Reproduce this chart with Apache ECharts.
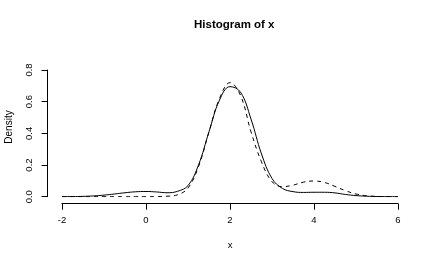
<!DOCTYPE html>
<html><head><meta charset="utf-8">
<script src="https://cdn.jsdelivr.net/npm/echarts@6/dist/echarts.min.js"></script>
<style>html,body{margin:0;padding:0;background:#fff}#c{width:436px;height:263px}</style>
</head><body><div id="c"></div>
<script>
var xs = [-2,-1.75,-1.5,-1.25,-1,-0.75,-0.5,-0.25,0,0.25,0.5,0.75,1,1.25,1.5,1.75,2,2.25,2.5,2.75,3,3.25,3.5,3.75,4,4.25,4.5,4.75,5,5.25,5.5,5.75,6];
var solidY = [0.0005,0.001,0.002,0.005,0.01,0.017,0.025,0.031,0.033,0.03,0.025,0.034,0.07,0.20,0.41,0.61,0.695,0.66,0.49,0.27,0.115,0.052,0.032,0.027,0.028,0.028,0.024,0.014,0.007,0.003,0.001,0.0005,0];
var dashedY = [0,0,0,0,0,0,0,0,0,0.001,0.003,0.012,0.055,0.19,0.41,0.62,0.72,0.64,0.41,0.22,0.095,0.063,0.073,0.092,0.099,0.09,0.065,0.038,0.017,0.006,0.002,0.0005,0];
var xTicks = [-2,0,2,4,6];
var yTicks = [0.0,0.2,0.4,0.6,0.8];
var titleText = 'Histogram of x';
var xName = 'x';
var yName = 'Density';

function pairs(a){ return xs.map(function(x,i){return [x,a[i]];}); }
var chart = echarts.init(document.getElementById('c'), null, {renderer:'canvas'});
var axisCol = '#000';
chart.setOption({
  animation:false,
  backgroundColor:'#fff',
  title:{text:titleText, left:189, top:14, textStyle:{fontFamily:'Liberation Sans', fontSize:11.5, fontWeight:'bold', color:'#000'}},
  grid:{left:62, right:38, top:70, bottom:66.3, containLabel:false, outerBoundsMode:'none'},
  graphic:[{type:'text', x:9, y:127, rotation:Math.PI/2, silent:true,
    style:{text:yName, fill:'#000', font:'10px "Liberation Sans"', align:'center', verticalAlign:'middle', textAlign:'center', textVerticalAlign:'middle'}}],
  xAxis:{type:'value', min:-2, max:6, interval:2, offset:7,
    name:xName, nameLocation:'middle', nameGap:37,
    nameTextStyle:{fontFamily:'Liberation Sans', fontSize:9.5, color:'#000'},
    axisLine:{show:true, onZero:false, lineStyle:{color:axisCol, width:1}},
    axisTick:{show:true, length:6, lineStyle:{color:axisCol}},
    axisLabel:{margin:12, fontFamily:'Liberation Sans', fontSize:9.5, color:'#000',
      formatter:function(v){return xTicks.indexOf(v)>=0 ? String(v) : '';}},
    splitLine:{show:false}},
  yAxis:{type:'value', min:0, max:0.8, interval:0.2, offset:14.5,
    axisLine:{show:true, onZero:false, lineStyle:{color:axisCol, width:1}},
    axisTick:{show:true, length:6, lineStyle:{color:axisCol}},
    axisLabel:{margin:13, rotate:90, fontFamily:'Liberation Sans', fontSize:9.5, color:'#000',
      formatter:function(v){var t=yTicks.find(function(y){return Math.abs(y-v)<1e-9;}); return t===undefined?'':t.toFixed(1);}},
    splitLine:{show:false}},
  series:[
    {type:'line', data:pairs(solidY), smooth:0.4, showSymbol:false, lineStyle:{color:'#000', width:1}},
    {type:'line', data:pairs(dashedY), smooth:0.4, showSymbol:false, lineStyle:{color:'#000', width:1, type:[4,4]}}
  ]
});
</script></body></html>
